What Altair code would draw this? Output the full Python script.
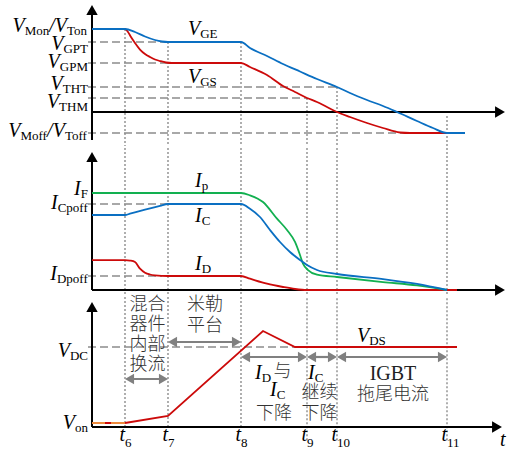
import altair as alt
import pandas as pd

# ---------------- data ----------------
# time in arbitrary units, origin on the vertical axes
T_SUBS = ["6", "7", "8", "9", "10", "11"]
T_VALS = [3.3, 7.6, 14.9, 21.5, 24.5, 35.5]

# panel 1: gate voltages (V)
V_MON, V_GPT, V_GPM, V_THT, V_THM, V_MOFF = 15.09, 12.73, 8.91, 4.55, 2.55, -3.82
VGE_T = [0, 3.3, 4.3, 5.3, 6.3, 7.0, 7.6, 14.9, 15.8, 17.5, 19.1, 20.8, 22.5, 24.5,
         25.8, 27.5, 29.1, 30.5, 32.5, 34.1, 35.5, 37.3]
VGE_V = [15.09, 15.09, 14.55, 13.73, 13.09, 12.82, 12.73, 12.73, 11.64, 10.18, 8.73,
         7.36, 6.0, 4.55, 3.45, 2.18, 1.09, 0.0, -1.64, -2.91, -3.82, -3.82]
VGS_T = [0, 3.3, 3.6, 3.9, 4.3, 4.8, 5.3, 5.8, 6.3, 6.8, 7.4, 8.0, 14.9, 15.8, 17.5,
         19.1, 20.3, 21.5, 22.5, 23.5, 24.5, 25.8, 27.5, 29.1, 30.8, 31.8, 35.8]
VGS_V = [15.09, 15.09, 14.55, 13.64, 12.55, 11.36, 10.55, 10.0, 9.55, 9.27, 9.0, 8.91,
         8.91, 8.18, 6.73, 4.73, 3.64, 2.55, 1.82, 0.91, 0.0, -0.91, -2.0, -2.91,
         -3.73, -3.82, -3.82]

# panel 2: currents (I_F = 100)
I_F, I_CPOFF, I_DPOFF = 100.0, 88.66, 14.43
IP_T = [0, 14.9, 15.8, 17.1, 18.5, 19.5, 20.3, 20.8, 21.1, 21.6, 22.5, 24.5, 29.1, 32.5, 35.5]
IP_V = [100, 100, 97.6, 90.7, 73.5, 61.9, 49.5, 36.1, 27.1, 20.6, 15.8, 13.4, 8.2, 4.8, 0]
IC_T = [0, 3.3, 3.8, 5.3, 6.8, 7.6, 14.9, 15.8, 16.8, 17.8, 18.8, 19.8, 20.8, 21.5,
        22.5, 24.5, 29.1, 32.5, 35.5]
IC_V = [77.3, 77.3, 78.66, 82.78, 86.6, 88.66, 88.66, 83.8, 75.26, 61.86, 49.48, 39.18,
        30.93, 25.77, 20.62, 16.49, 11.3, 6.2, 0]
ID_T = [0, 3.3, 3.8, 4.3, 4.8, 5.3, 5.8, 6.3, 7.6, 14.9, 15.8, 17.5, 19.1, 20.3, 21.5, 36.5]
ID_V = [30.9, 30.9, 30.4, 28.9, 21.96, 17.84, 15.98, 15.15, 14.43, 14.43, 11.65, 6.49,
        3.09, 1.03, 0, 0]

# panel 3: drain-source voltage (V)
V_DC, V_ON = 600.0, 30.0
VDS_T = [3.3, 7.6, 17.1, 20.3, 36.5]
VDS_V = [30, 82.5, 720, 600, 600]
VON_T = [0, 3.3]
VON_V = [30, 30]

# ---------------- styling ----------------
BLUE, RED, GREEN, ORANGE = "#0a6fc2", "#cc0a0a", "#12b050", "#ee8a3c"
GRAY_DASH, GRAY_DOT, ARROW_GRAY = "#8c8c8c", "#7a7a7a", "#808080"
SERIF, CJK = "Liberation Serif", "Noto Sans CJK SC"
MAIN_FS, SUB_FS = 20, 13
PX_PER_T = 10.0
XS = alt.Scale(domain=[-9.2, 41.5], nice=False, zero=False)
LEFT_X = -0.4

IT_W = {"V": 0.611, "I": 0.333, "t": 0.278, "/": 0.278}
RG_W = {"M": 0.889, "o": 0.5, "n": 0.5, "T": 0.611, "G": 0.722, "P": 0.556, "H": 0.722,
        "f": 0.333, "D": 0.722, "C": 0.667, "p": 0.5, "F": 0.556, "S": 0.556, "E": 0.611}


def wpx(text, kind):
    if kind == "m":
        return sum(IT_W.get(c, 0.5) for c in text) * MAIN_FS
    return sum(RG_W.get(c, 0.5) for c in text) * SUB_FS


def compose(x, y, pieces, anchor="left"):
    total = sum(wpx(t, k) for t, k in pieces) / PX_PER_T
    cur = x - total if anchor == "right" else x
    rows = []
    for t, k in pieces:
        rows.append({"x": cur, "y": y, "text": t, "kind": k})
        cur += wpx(t, k) / PX_PER_T
    return rows


def X(f):
    return alt.X(f"{f}:Q", scale=XS, axis=None)


def Y(f, ys):
    return alt.Y(f"{f}:Q", scale=ys, axis=None)


def line(t, v, color, ys, width=1.8, dash=None):
    kw = dict(color=color, strokeWidth=width, interpolate="monotone")
    if dash:
        kw["strokeDash"] = dash
    return alt.Chart(pd.DataFrame({"t": t, "v": v})).mark_line(**kw).encode(
        x=X("t"), y=Y("v", ys))


def hdash(rows, ys):
    return alt.Chart(pd.DataFrame(rows)).mark_rule(
        color=GRAY_DASH, strokeWidth=1.4, strokeDash=[8, 4]).encode(
        x=X("x"), x2="x2:Q", y=Y("y", ys))


def vdots(rows, ys):
    return alt.Chart(pd.DataFrame(rows)).mark_rule(
        color=GRAY_DOT, strokeWidth=1.2, strokeDash=[2, 2]).encode(
        x=X("x"), y=Y("y", ys), y2="y2:Q")


def axes(ys, ytop, ybot, xend):
    vline = alt.Chart(pd.DataFrame([{"x": 0, "y": ybot, "y2": ytop}])).mark_rule(
        color="black", strokeWidth=2).encode(x=X("x"), y=Y("y", ys), y2="y2:Q")
    hline = alt.Chart(pd.DataFrame([{"x": 0, "x2": xend, "y": 0}])).mark_rule(
        color="black", strokeWidth=2).encode(x=X("x"), x2="x2:Q", y=Y("y", ys))
    up = alt.Chart(pd.DataFrame([{"x": 0, "y": ytop}])).mark_point(
        shape="triangle-up", filled=True, size=130, color="black", opacity=1).encode(
        x=X("x"), y=Y("y", ys))
    right = alt.Chart(pd.DataFrame([{"x": xend, "y": 0}])).mark_point(
        shape="triangle-right", filled=True, size=130, color="black", opacity=1).encode(
        x=X("x"), y=Y("y", ys))
    return [vline, hline, up, right]


def texts(rows, ys, sub_dy=3):
    df = pd.DataFrame(rows)
    layers = []
    m = df[df.kind == "m"]
    if len(m):
        layers.append(alt.Chart(m).mark_text(
            font=SERIF, fontStyle="italic", fontSize=MAIN_FS, align="left",
            baseline="alphabetic", color="black").encode(
            x=X("x"), y=Y("y", ys), text="text:N"))
    s = df[df.kind == "s"]
    if len(s):
        layers.append(alt.Chart(s).mark_text(
            font=SERIF, fontSize=SUB_FS, align="left", baseline="alphabetic",
            dy=sub_dy, color="black").encode(x=X("x"), y=Y("y", ys), text="text:N"))
    ts = df[df.kind == "ts"]
    if len(ts):
        layers.append(alt.Chart(ts).mark_text(
            font=SERIF, fontSize=SUB_FS, align="left", baseline="alphabetic",
            dy=6, color="black").encode(x=X("x"), y=Y("y", ys), text="text:N"))
    return layers


def arrows(rows, ys):
    h = 0.45
    shafts = alt.Chart(pd.DataFrame([{"x": a + h, "x2": b - h, "y": y} for a, b, y in rows])
                       ).mark_rule(color=ARROW_GRAY, strokeWidth=2.2).encode(
        x=X("x"), x2="x2:Q", y=Y("y", ys))
    left = alt.Chart(pd.DataFrame([{"x": a + h, "y": y} for a, b, y in rows])).mark_point(
        shape="triangle-left", filled=True, size=110, color=ARROW_GRAY, opacity=1).encode(
        x=X("x"), y=Y("y", ys))
    right = alt.Chart(pd.DataFrame([{"x": b - h, "y": y} for a, b, y in rows])).mark_point(
        shape="triangle-right", filled=True, size=110, color=ARROW_GRAY, opacity=1).encode(
        x=X("x"), y=Y("y", ys))
    return [shafts, left, right]


W = 507

# ---------------- panel 1 ----------------
ys1 = alt.Scale(domain=[-6.182, 20.364], nice=False, zero=False)
p1_dots = [{"x": T_VALS[0], "y": V_MON, "y2": -6.182},
           {"x": T_VALS[1], "y": V_GPT, "y2": -6.182},
           {"x": T_VALS[2], "y": V_GPT, "y2": -6.182},
           {"x": T_VALS[3], "y": V_THM, "y2": -6.182},
           {"x": T_VALS[4], "y": V_THT, "y2": -6.182},
           {"x": T_VALS[5], "y": -0.73, "y2": -6.182}]
p1_dash = [{"x": LEFT_X, "x2": 7.6, "y": V_GPT},
           {"x": LEFT_X, "x2": 8.1, "y": V_GPM},
           {"x": LEFT_X, "x2": T_VALS[4], "y": V_THT},
           {"x": LEFT_X, "x2": T_VALS[3], "y": V_THM},
           {"x": LEFT_X, "x2": T_VALS[5], "y": V_MOFF}]
p1_text = (compose(LEFT_X, 14.55, [("V", "m"), ("Mon", "s"), ("/", "m"), ("V", "m"), ("Ton", "s")], "right")
           + compose(LEFT_X, 11.27, [("V", "m"), ("GPT", "s")], "right")
           + compose(LEFT_X, 8.0, [("V", "m"), ("GPM", "s")], "right")
           + compose(LEFT_X, 4.0, [("V", "m"), ("THT", "s")], "right")
           + compose(LEFT_X, 0.73, [("V", "m"), ("THM", "s")], "right")
           + compose(LEFT_X, -4.55, [("V", "m"), ("Moff", "s"), ("/", "m"), ("V", "m"), ("Toff", "s")], "right")
           + compose(9.6, 14.0, [("V", "m"), ("GE", "s")])
           + compose(9.6, 5.27, [("V", "m"), ("GS", "s")]))
p1_layers = ([vdots(p1_dots, ys1), hdash(p1_dash, ys1)]
             + axes(ys1, 18.55, -5.1, 40.8)
             + [line(VGS_T, VGS_V, RED, ys1), line(VGE_T, VGE_V, BLUE, ys1)]
             + texts(p1_text, ys1))
p1 = alt.layer(*p1_layers).properties(width=W, height=146)

# ---------------- panel 2 ----------------
ys2 = alt.Scale(domain=[-4.124, 146.39], nice=False, zero=False)
p2_dots = [{"x": tv, "y": -4.124, "y2": 146.39} for tv in T_VALS]
p2_dash = [{"x": LEFT_X, "x2": 7.6, "y": I_CPOFF},
           {"x": LEFT_X, "x2": 7.0, "y": I_DPOFF}]
p2_text = (compose(LEFT_X, 97.9, [("I", "m"), ("F", "s")], "right")
           + compose(LEFT_X, 83.5, [("I", "m"), ("Cpoff", "s")], "right")
           + compose(LEFT_X, 10.3, [("I", "m"), ("Dpoff", "s")], "right")
           + compose(10.3, 106.2, [("I", "m"), ("p", "s")])
           + compose(10.3, 70.1, [("I", "m"), ("C", "s")])
           + compose(10.3, 20.6, [("I", "m"), ("D", "s")]))
p2_layers = ([vdots(p2_dots, ys2), hdash(p2_dash, ys2)]
             + axes(ys2, 137.1, 0, 40.8)
             + [line(ID_T, ID_V, RED, ys2), line(IP_T, IP_V, GREEN, ys2),
                line(IC_T, IC_V, BLUE, ys2)]
             + texts(p2_text, ys2))
p2 = alt.layer(*p2_layers).properties(width=W, height=146)

# ---------------- panel 3 ----------------
ys3 = alt.Scale(domain=[-210, 975], nice=False, zero=False)
p3_dots = ([{"x": tv, "y": 0, "y2": 975} for tv in T_VALS[:3]]
           + [{"x": tv, "y": -100, "y2": 975} for tv in T_VALS[3:]])
p3_dash = [{"x": LEFT_X, "x2": 20.3, "y": V_DC}]
p3_text = (compose(LEFT_X, 525, [("V", "m"), ("DC", "s")], "right")
           + compose(LEFT_X, -15, [("V", "m"), ("on", "s")], "right")
           + compose(26.5, 637.5, [("V", "m"), ("DS", "s")])
           + compose(16.3, 360, [("I", "m"), ("D", "s")])
           + compose(17.8, 232, [("I", "m"), ("C", "s")])
           + compose(21.6, 360, [("I", "m"), ("C", "s")])
           + compose(40.8, -142, [("t", "m")]))
for tv, sub in zip(T_VALS, T_SUBS):
    p3_text += compose(tv - wpx("t", "m") / PX_PER_T, -105, [("t", "m")])
    p3_text.append({"x": tv, "y": -105, "text": sub, "kind": "ts"})

cjk_rows = pd.DataFrame([
    {"x": 5.55, "y": 915, "text": "混合"}, {"x": 5.55, "y": 765, "text": "器件"},
    {"x": 5.55, "y": 615, "text": "内部"}, {"x": 5.55, "y": 465, "text": "换流"},
    {"x": 11.3, "y": 915, "text": "米勒"}, {"x": 11.3, "y": 757.5, "text": "平台"},
    {"x": 19.05, "y": 410, "text": "与"}, {"x": 18.2, "y": 101, "text": "下降"},
    {"x": 22.75, "y": 255, "text": "继续"}, {"x": 22.75, "y": 101, "text": "下降"},
    {"x": 30.1, "y": 240, "text": "拖尾电流"},
])
igbt_rows = pd.DataFrame([{"x": 30.1, "y": 397.5, "text": "IGBT"}])
arrow_rows = [(T_VALS[0], T_VALS[1], 360), (T_VALS[1], T_VALS[2], 637.5),
              (T_VALS[2], T_VALS[3], 525), (T_VALS[3], T_VALS[4], 525),
              (T_VALS[4], T_VALS[5], 525)]

cjk = alt.Chart(cjk_rows).mark_text(font=CJK, fontSize=18, fontWeight=300, align="center",
                                    baseline="middle", color="#333333").encode(
    x=X("x"), y=Y("y", ys3), text="text:N")
igbt = alt.Chart(igbt_rows).mark_text(font=SERIF, fontSize=20, align="center", baseline="middle",
                                      color="#222222").encode(x=X("x"), y=Y("y", ys3), text="text:N")

p3_layers = ([vdots(p3_dots, ys3), hdash(p3_dash, ys3)]
             + axes(ys3, 900, 0, 40.5)
             + arrows(arrow_rows, ys3)
             + [line(VON_T, VON_V, ORANGE, ys3),
                line(VON_T, VON_V, RED, ys3, dash=[0.01, 13, 6, 300]),
                alt.Chart(pd.DataFrame({"t": VDS_T, "v": VDS_V})).mark_line(
                    color=RED, strokeWidth=1.8).encode(x=X("t"), y=Y("v", ys3))]
             + [cjk, igbt]
             + texts(p3_text, ys3))
p3 = alt.layer(*p3_layers).properties(width=W, height=158)

chart = alt.vconcat(p1, p2, p3, spacing=0, padding=0).configure_view(strokeWidth=0)
chart.save("out.html", embed_options={"renderer": "svg", "actions": False})
